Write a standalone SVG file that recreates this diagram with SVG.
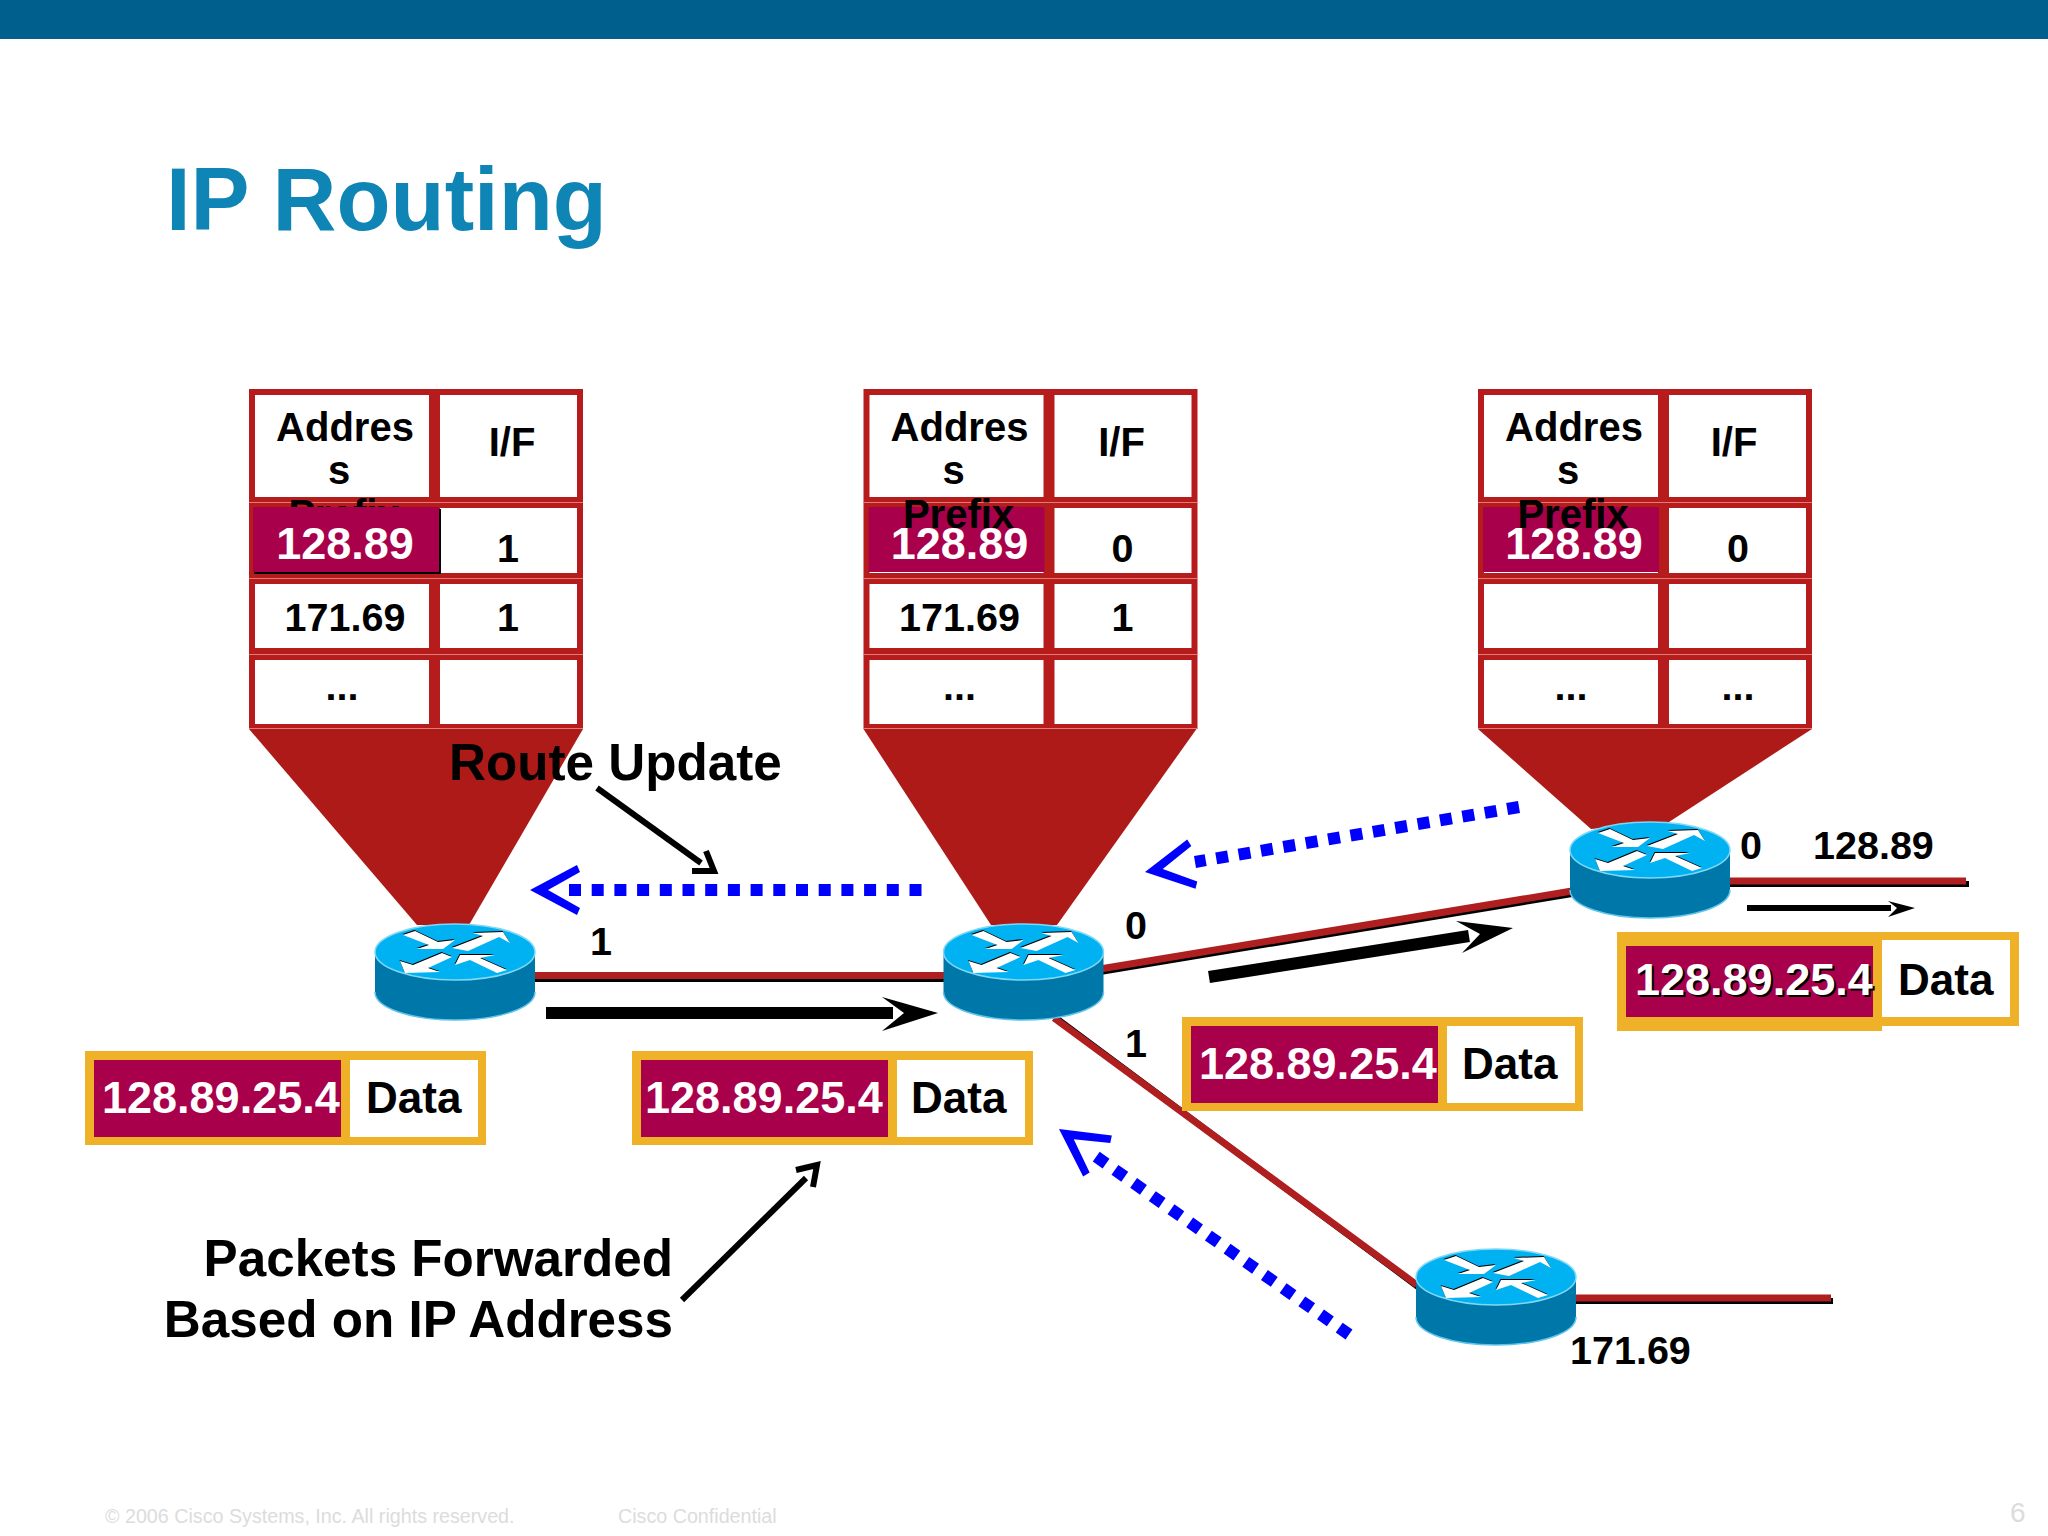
<svg xmlns="http://www.w3.org/2000/svg" xmlns:xlink="http://www.w3.org/1999/xlink" width="2048" height="1536" viewBox="0 0 2048 1536">
<style>
text{font-family:"Liberation Sans",Arial,sans-serif;font-weight:700;fill:#000}
.c{text-anchor:middle}
.t40{font-size:40px}
.t39{font-size:39.5px}
.t44{font-size:45px}
.t50{font-size:51.2px}
.w{fill:#fff}
.pk{font-size:45px;fill:#fff}
.dt{font-size:44px}
.foot{font-weight:400;font-size:19.7px;fill:#dcdcdc}
.frame{fill:#b71c1c}
.cell{fill:#fff}
.sep{fill:#e27a78}
.mar{fill:#a9004b}
.gold{fill:#eeb127}
.funnel{fill:#ae1a17}
.red{stroke:#b01f1f;stroke-width:7;fill:none}
.blk{stroke:#000;stroke-width:6;fill:none}
.thick{stroke:#000;stroke-width:12;fill:none}
.thin{stroke:#000;stroke-width:6;fill:none}
.dots{stroke:#0000ff;stroke-width:12;stroke-dasharray:12 10.7;fill:none}
.bh{fill:#0000ff}
</style>
<defs>
<g id="router">
<path d="M-80 0V40C-80 56 -44 68 0 68S80 56 80 40V0Z" fill="#0077a9"/>
<path d="M-80 40C-80 56 -44 68 0 68S80 56 80 40" fill="none" stroke="#5fc4ea" stroke-width="1.5"/>
<ellipse cx="0" cy="0" rx="80" ry="28" fill="#00b2f2" stroke="#7fd8f5" stroke-width="1.5"/>
<g fill="#000" transform="translate(-0.5,-1)">
<polygon points="-52,-17 -40,-21 -17,-10 0,-12 -12,-3 -38,-3 -26,-7"/>
<polygon points="-3,-4 28,-16 18,-19 48,-20 55,-9 44,-15 13,-1"/>
<polygon points="-55,9 -42,13 -13,1 -3,5 -27,16 -15,20 -50,21"/>
<polygon points="0,13 5,3 40,3 25,6 52,18 42,21 15,8"/>
</g>
<g fill="#fff">
<polygon points="-52,-17 -40,-21 -17,-10 0,-12 -12,-3 -38,-3 -26,-7"/>
<polygon points="-3,-4 28,-16 18,-19 48,-20 55,-9 44,-15 13,-1"/>
<polygon points="-55,9 -42,13 -13,1 -3,5 -27,16 -15,20 -50,21"/>
<polygon points="0,13 5,3 40,3 25,6 52,18 42,21 15,8"/>
</g>
</g>
<g id="tframe">
<rect class="frame" x="0" y="0" width="334" height="340"/>
<rect class="cell" x="6" y="6" width="174" height="102"/>
<rect class="cell" x="191" y="6" width="137" height="102"/>
<rect class="cell" x="6" y="119" width="174" height="65"/>
<rect class="cell" x="191" y="119" width="137" height="65"/>
<rect class="cell" x="6" y="195" width="174" height="64"/>
<rect class="cell" x="191" y="195" width="137" height="64"/>
<rect class="cell" x="6" y="271" width="174" height="64"/>
<rect class="cell" x="191" y="271" width="137" height="64"/>
<rect class="sep" x="0" y="113" width="334" height="1"/>
<rect class="sep" x="0" y="189" width="334" height="1"/>
<rect class="sep" x="0" y="265" width="334" height="1"/>
<rect class="sep" x="0" y="339" width="334" height="1"/>
<text class="t40 c" x="96" y="52">Addres</text>
<text class="t40 c" x="90" y="95">s</text>
<text class="t40 c" x="95" y="139">Prefix</text>
</g>
<g id="packet">
<rect class="gold" x="0" y="0" width="401" height="94"/>
<rect class="mar" x="9" y="9" width="247" height="77"/>
<rect class="cell" x="265" y="9" width="128" height="77"/>
</g>
</defs>

<rect width="2048" height="1536" fill="#fff"/>
<rect width="2048" height="39" fill="#015f8e"/>
<text x="166" y="230" style="font-size:88.5px;fill:#0f85b6">IP Routing</text>

<g id="funnels">
<polygon class="funnel" points="249,729 583,729 469,925 417,925"/>
<polygon class="funnel" points="863.5,729 1196.5,729 1057,925 991,925"/>
<polygon class="funnel" points="1478,729 1812,729 1669,822 1591,829"/>
</g>

<g id="connectors">
<line class="blk" x1="535" y1="979" x2="945" y2="979"/>
<line class="red" x1="535" y1="975.5" x2="945" y2="975.5"/>
<line class="blk" x1="1100" y1="972" x2="1572" y2="894"/>
<line class="red" x1="1100" y1="969" x2="1572" y2="891"/>
<line x1="1055" y1="1017" x2="1418" y2="1287" stroke="#000" stroke-width="6"/>
<line class="red" x1="1054" y1="1018" x2="1417" y2="1285"/>
<polyline class="blk" points="1728,884 1969,884"/>
<line class="red" x1="1728" y1="881" x2="1966" y2="881"/>
<polyline class="blk" points="1574,1301 1833,1301"/>
<line class="red" x1="1574" y1="1298" x2="1831" y2="1298"/>
<line class="thick" x1="546" y1="1013" x2="893" y2="1013"/>
<polygon points="938,1013 882,997 904,1013 882,1031"/>
<line class="thick" x1="1209" y1="977" x2="1469" y2="936"/>
<polygon points="1513,928 1456,921 1480,934 1462,953"/>
<line x1="1747" y1="908" x2="1891" y2="908" stroke="#000" stroke-width="6"/>
<polygon points="1915,908 1888,901 1897,908 1888,917"/>
<line class="thin" x1="597" y1="788" x2="701" y2="863"/>
<polyline class="thin" points="692,871 714,871 706,851"/>
<line class="thin" x1="682" y1="1300" x2="806" y2="1178"/>
<polyline class="thin" points="796,1170 817,1165 813,1187"/>
<line class="dots" x1="569" y1="890" x2="922" y2="890"/>
<polygon class="bh" points="530,890 577,865 580,872 548,890 580,908 577,915"/>
<line class="dots" x1="1519" y1="807" x2="1195" y2="862"/>
<polygon class="bh" transform="translate(1145,872) rotate(-9.6)" points="0,0 47,-25 50,-18 18,0 50,18 47,25"/>
<line class="dots" style="stroke-dasharray:12 10.85" x1="1349" y1="1334.5" x2="1096" y2="1156.5"/>
<polygon class="bh" transform="translate(1059,1129) rotate(35)" points="0,0 47,-25 50,-18 18,0 50,18 47,25"/>
</g>

<g id="table-left" transform="translate(249,389)">
<use href="#tframe" xlink:href="#tframe"/>
<text class="t40 c" x="263" y="67">I/F</text>
<rect x="5" y="120" width="187" height="65" fill="#000"/>
<rect class="mar" x="4" y="118" width="186" height="65"/>
<text class="t44 c w" x="96" y="170">128.89</text>
<text class="t39 c" x="259" y="173">1</text>
<text class="t39 c" x="96" y="242">171.69</text>
<text class="t39 c" x="259" y="242">1</text>
<text class="t39 c" x="93" y="311">...</text>
</g>
<g id="table-middle" transform="translate(863.5,389)">
<use href="#tframe" xlink:href="#tframe"/>
<text class="t40 c" x="258" y="67">I/F</text>
<rect class="mar" x="5" y="118" width="176" height="65"/>
<text class="t40 c" x="95" y="139">Prefix</text>
<text class="t44 c w" x="96" y="170">128.89</text>
<text class="t39 c" x="259" y="173">0</text>
<text class="t39 c" x="96" y="242">171.69</text>
<text class="t39 c" x="259" y="242">1</text>
<text class="t39 c" x="96" y="311">...</text>
</g>
<g id="table-right" transform="translate(1478,389)">
<use href="#tframe" xlink:href="#tframe"/>
<text class="t40 c" x="256" y="67">I/F</text>
<rect class="mar" x="5" y="118" width="176" height="65"/>
<text class="t40 c" x="95" y="139">Prefix</text>
<text class="t44 c w" x="96" y="170">128.89</text>
<text class="t39 c" x="260" y="173">0</text>
<text class="t39 c" x="93" y="311">...</text>
<text class="t39 c" x="260" y="311">...</text>
</g>

<g id="router-1"><use href="#router" xlink:href="#router" x="455" y="952"/></g>
<g id="router-2"><use href="#router" xlink:href="#router" x="1023.5" y="952"/></g>
<g id="router-3"><use href="#router" xlink:href="#router" x="1650" y="850"/></g>
<g id="router-4"><use href="#router" xlink:href="#router" x="1496" y="1277"/></g>

<g id="packet-1">
<use href="#packet" xlink:href="#packet" x="85" y="1051"/>
<text class="pk" x="102" y="1113">128.89.25.4</text>
<text class="dt" x="366" y="1113">Data</text>
</g>
<g id="packet-2">
<use href="#packet" xlink:href="#packet" x="632" y="1051"/>
<text class="pk" x="645" y="1113">128.89.25.4</text>
<text class="dt" x="911" y="1113">Data</text>
</g>
<g id="packet-3">
<use href="#packet" xlink:href="#packet" x="1182" y="1017"/>
<text class="pk" x="1199" y="1079">128.89.25.4</text>
<text class="dt" x="1462" y="1079">Data</text>
</g>
<g id="packet-4">
<rect class="gold" x="1617" y="932" width="402" height="94"/>
<rect class="gold" x="1617" y="932" width="265" height="99"/>
<rect class="mar" x="1626" y="946" width="247" height="71"/>
<rect class="cell" x="1882" y="940" width="128" height="77"/>
<text x="1637" y="997" style="font-size:45px">128.89.25.4</text>
<text class="pk" x="1635" y="995">128.89.25.4</text>
<text class="dt" x="1898" y="995">Data</text>
</g>

<g id="labels">
<text class="t50" x="449" y="780">Route Update</text>
<text class="t50" x="673" y="1276" text-anchor="end">Packets Forwarded</text>
<text class="t50" x="673" y="1337" text-anchor="end">Based on IP Address</text>
<text class="t39 c" x="601" y="955">1</text>
<text class="t39 c" x="1136" y="939">0</text>
<text class="t39 c" x="1136" y="1057">1</text>
<text class="t39 c" x="1751" y="859">0</text>
<text class="t39" x="1813" y="859">128.89</text>
<text class="t39" x="1570" y="1364">171.69</text>
</g>

<g id="footer">
<text class="foot" x="105" y="1523">© 2006 Cisco Systems, Inc. All rights reserved.</text>
<text class="foot" x="618" y="1523">Cisco Confidential</text>
<text class="foot" x="2010" y="1522" style="font-size:28px">6</text>
</g>
</svg>
